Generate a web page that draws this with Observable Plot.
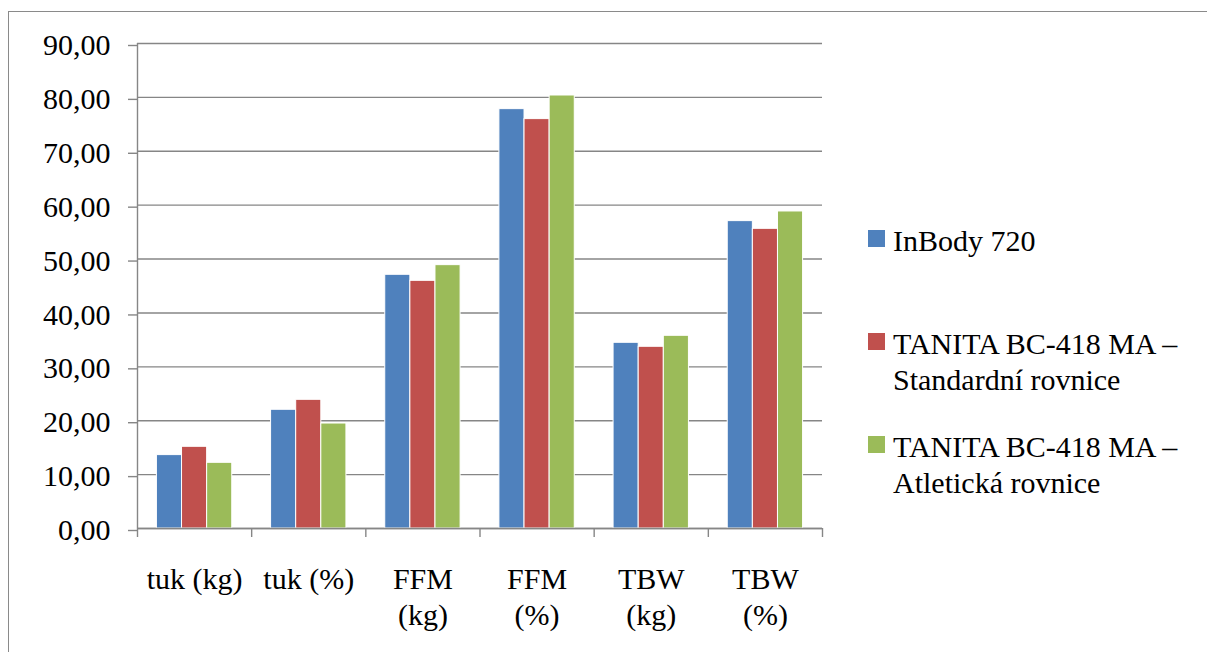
<!DOCTYPE html>
<html>
<head>
<meta charset="utf-8">
<script src="https://cdn.jsdelivr.net/npm/d3@7"></script>
<script src="https://cdn.jsdelivr.net/npm/@observablehq/plot@0.6"></script>
<style>
  html, body { margin: 0; padding: 0; background: #fff; }
  #wrap { position: relative; width: 1207px; height: 652px; overflow: hidden; font-family: "Times New Roman", Tinos, serif; }
  #border { position: absolute; left: 8px; top: 11px; width: 1300px; height: 800px; border: 1.5px solid #8a8a8a; box-sizing: border-box; }
  #chart { position: absolute; left: 0; top: 0; }
  .item { position: absolute; left: 868px; display: flex; align-items: flex-start; font-size: 30px; line-height: 36px; color: #000; white-space: pre-line; }
  .sw { width: 17px; height: 17px; margin-top: 7px; margin-right: 8px; flex: none; }
</style>
</head>
<body>
<div id="wrap">
  <div id="border"></div>
  <div id="chart"></div>
  <div id="legend"></div>
</div>
<script>
// Body composition measured by three methods
const categories = ["tuk (kg)", "tuk (%)", "FFM\n(kg)", "FFM\n(%)", "TBW\n(kg)", "TBW\n(%)"];
const seriesNames = ["InBody 720", "TANITA BC-418 MA – Standardní rovnice", "TANITA BC-418 MA – Atletická rovnice"];
const legendLabels = ["InBody 720", "TANITA BC-418 MA –\nStandardní rovnice", "TANITA BC-418 MA –\nAtletická rovnice"];
const inbody720 = [13.62, 22.03, 47.08, 77.82, 34.46, 57.04];
const tanitaStandard = [15.16, 23.88, 45.96, 75.97, 33.72, 55.61];
const tanitaAthletic = [12.19, 19.48, 48.87, 80.35, 35.76, 58.83];
const colors = ["#4F81BD", "#C0504D", "#9BBB59"];
const yTicks = [0, 10, 20, 30, 40, 50, 60, 70, 80, 90];

const seriesValues = [inbody720, tanitaStandard, tanitaAthletic];
const rows = seriesValues.flatMap((vals, s) =>
  vals.map((v, c) => ({ cat: c, s, series: seriesNames[s], value: v }))
);

// grouped bars: each category spans one unit on x, three bars centred in it
const barW = 0.22;
const groupOffset = (1 - 3 * barW) / 2;
const x1 = d => d.cat + groupOffset + d.s * barW;
const x2 = d => d.cat + groupOffset + (d.s + 1) * barW;

const gray = "#868686";
const fmt = d => d.toFixed(2).replace(".", ",");
const serifStack = "\"Times New Roman\", Tinos, serif";

const chart = Plot.plot({
  width: 1207,
  height: 652,
  marginLeft: 137,
  marginRight: 385,
  marginTop: 43,
  marginBottom: 124,
  style: { fontFamily: serifStack, fontSize: "30px", color: "#000", background: "transparent" },
  x: { type: "linear", domain: [0, categories.length], axis: null },
  y: { domain: [0, 90], axis: null },
  color: { domain: seriesNames, range: colors },
  marks: [
    Plot.gridY(yTicks, { stroke: gray, strokeOpacity: 1, strokeWidth: 1.4 }),
    Plot.rectY(rows, { x1, x2, y: "value", fill: "series", stroke: "#fff", strokeWidth: 1 }),
    Plot.ruleY([0], { stroke: gray, strokeWidth: 1.4 }),
    Plot.ruleX([0], { stroke: gray, strokeWidth: 1.4 }),
    Plot.axisY({ ticks: yTicks, tickSize: 9, tickPadding: 18, tickFormat: fmt, stroke: gray, strokeWidth: 1.4, fill: "#000", fontSize: 30, fontFamily: serifStack, dy: 2, label: null }),
    Plot.axisX({ ticks: d3.range(0, categories.length + 1), tickSize: 9, tickFormat: () => "", stroke: gray, strokeWidth: 1.4, label: null }),
    Plot.axisX({ ticks: categories.map((_, i) => i + 0.5), tickSize: 0, tickPadding: 35, tickFormat: d => categories[Math.floor(d)], fill: "#000", fontSize: 30, fontFamily: serifStack, lineHeight: 1.2, label: null })
  ]
});
document.getElementById("chart").appendChild(chart);

// legend to the right of the plot
const legendTops = [223, 326, 429];
const legend = document.getElementById("legend");
legendLabels.forEach((lab, i) => {
  const item = document.createElement("div");
  item.className = "item";
  item.style.top = legendTops[i] + "px";
  const sw = document.createElement("div");
  sw.className = "sw";
  sw.style.background = colors[i];
  const tx = document.createElement("div");
  tx.textContent = lab;
  item.appendChild(sw);
  item.appendChild(tx);
  legend.appendChild(item);
});
</script>
</body>
</html>
